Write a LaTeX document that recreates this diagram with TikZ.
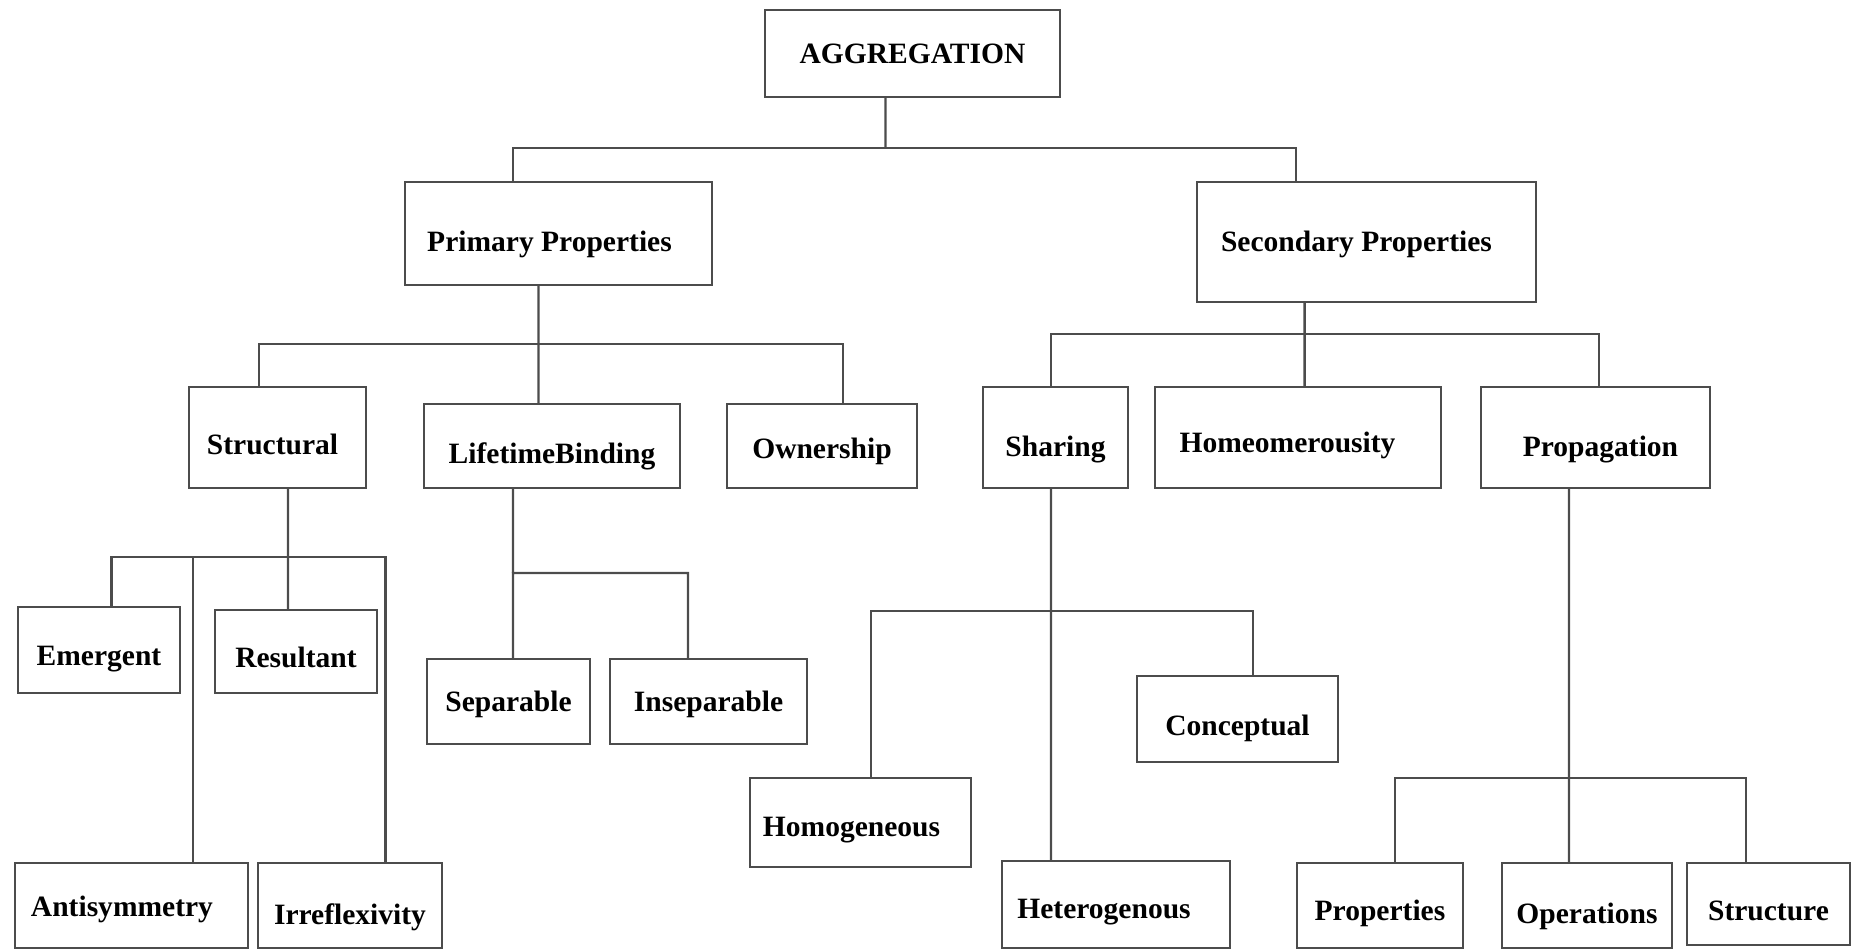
\documentclass[tikz,border=0pt]{standalone}
\usepackage{fontspec}
\setmainfont{Liberation Serif}
\usepackage{tikz}

\begin{document}
\begin{tikzpicture}[box/.style={draw=black!70,line width=0.7pt,rectangle,inner sep=0pt,font=\fontsize{8.4}{10}\selectfont\bfseries},
sink/.style={text height=#1,text depth=0pt},
nudge/.style={execute at begin node={\hspace*{#1}}},
line/.style={draw=black!70,line width=0.65pt}]

\useasboundingbox (0,0) rectangle (18.58,-9.5);

\node[box,minimum width=2.95cm,minimum height=0.87cm] (agg) at (9.125,-0.535) {AGGREGATION};

\node[box,minimum width=3.07cm,minimum height=1.03cm,sink=0.37cm,nudge=-0.18cm] (prim) at (5.585,-2.335) {Primary Properties};
\node[box,minimum width=3.39cm,minimum height=1.2cm,sink=0.2cm,nudge=-0.2cm] (sec) at (13.665,-2.42) {Secondary Properties};

\node[box,minimum width=1.77cm,minimum height=1.01cm,sink=0.35cm,nudge=-0.1cm] (struct) at (2.775,-4.375) {Structural};
\node[box,minimum width=2.56cm,minimum height=0.84cm,sink=0.34cm] (life) at (5.52,-4.46) {LifetimeBinding};
\node[box,minimum width=1.9cm,minimum height=0.84cm,sink=0.24cm] (own) at (8.22,-4.46) {Ownership};
\node[box,minimum width=1.45cm,minimum height=1.01cm,sink=0.39cm] (shar) at (10.555,-4.375) {Sharing};
\node[box,minimum width=2.86cm,minimum height=1.01cm,sink=0.31cm,nudge=-0.21cm] (homeo) at (12.98,-4.375) {Homeomerousity};
\node[box,minimum width=2.29cm,minimum height=1.01cm,sink=0.39cm,nudge=0.1cm] (prop) at (15.955,-4.375) {Propagation};

\node[box,minimum width=1.62cm,minimum height=0.86cm,sink=0.3cm] (emer) at (0.99,-6.5) {Emergent};
\node[box,minimum width=1.62cm,minimum height=0.83cm,sink=0.31cm] (res) at (2.96,-6.515) {Resultant};
\node[box,minimum width=2.33cm,minimum height=0.85cm,sink=0.21cm,nudge=-0.19cm] (anti) at (1.315,-9.055) {Antisymmetry};
\node[box,minimum width=1.84cm,minimum height=0.85cm,sink=0.37cm] (irr) at (3.5,-9.055) {Irreflexivity};

\node[box,minimum width=1.63cm,minimum height=0.85cm,sink=0.2cm] (sep) at (5.085,-7.015) {Separable};
\node[box,minimum width=1.97cm,minimum height=0.85cm,sink=0.2cm] (insep) at (7.085,-7.015) {Inseparable};

\node[box,minimum width=2.21cm,minimum height=0.89cm,sink=0.27cm,nudge=-0.18cm] (homog) at (8.605,-8.225) {Homogeneous};
\node[box,minimum width=2.01cm,minimum height=0.86cm,sink=0.32cm] (conc) at (12.375,-7.19) {Conceptual};
\node[box,minimum width=2.28cm,minimum height=0.87cm,sink=0.27cm,nudge=-0.24cm] (hetero) at (11.16,-9.045) {Heterogenous};

\node[box,minimum width=1.66cm,minimum height=0.85cm,sink=0.29cm] (props) at (13.8,-9.055) {Properties};
\node[box,minimum width=1.7cm,minimum height=0.85cm,sink=0.35cm] (ops) at (15.87,-9.055) {Operations};
\node[box,minimum width=1.63cm,minimum height=0.82cm,sink=0.32cm] (struc) at (17.685,-9.04) {Structure};

% bars
\coordinate (b0) at (8.855,-1.48);
\coordinate (b1) at (5.385,-3.44);
\coordinate (b2) at (13.046,-3.34);
\coordinate (b3) at (2.88,-5.57);
\coordinate (b4) at (5.13,-5.73);
\coordinate (b5) at (10.51,-6.11);
\coordinate (b6) at (15.69,-7.78);

\draw[line] ([xshift=-2.7mm]agg.south) -- (b0);
\draw[line] ([xshift=-4.55mm]prim.north) |- (b0) -| ([xshift=-7.05mm]sec.north);

\draw[line] ([xshift=-2mm]prim.south) -- (b1);
\draw[line] ([xshift=-1.85mm]struct.north) |- (b1) -| ([xshift=2.1mm]own.north);
\draw[line] (b1) -- ([xshift=-1.35mm]life.north);

\draw[line] ([xshift=-6.19mm]sec.south) -- (b2);
\draw[line] ([xshift=-0.45mm]shar.north) |- (b2) -| ([xshift=0.35mm]prop.north);
\draw[line] (b2) -- ([xshift=0.66mm]homeo.north);

\draw[line] ([xshift=1.05mm]struct.south) -- (b3);
\draw[line] ([xshift=1.25mm]emer.north) |- (b3) -| ([xshift=3.55mm]irr.north);
\draw[line] (b3) -- ([xshift=-0.8mm]res.north);
\draw[line] ([xshift=6.15mm]anti.north) -- ([xshift=6.15mm]anti.north |- b3);

\draw[line] ([xshift=-3.9mm]life.south) -- (b4);
\draw[line] ([xshift=0.45mm]sep.north) -- (b4) -| ([xshift=-2.05mm]insep.north);

\draw[line] ([xshift=-0.45mm]shar.south) -- ([xshift=-6.5mm]hetero.north);
\draw[line] ([xshift=1.05mm]homog.north) |- (b5) -| ([xshift=1.55mm]conc.north);

\draw[line] ([xshift=-2.65mm]prop.south) -- (b6);
\draw[line] ([xshift=1.5mm]props.north) |- (b6) -| ([xshift=-2.25mm]struc.north);
\draw[line] (b6) -- ([xshift=-1.8mm]ops.north);

\end{tikzpicture}
\end{document}
